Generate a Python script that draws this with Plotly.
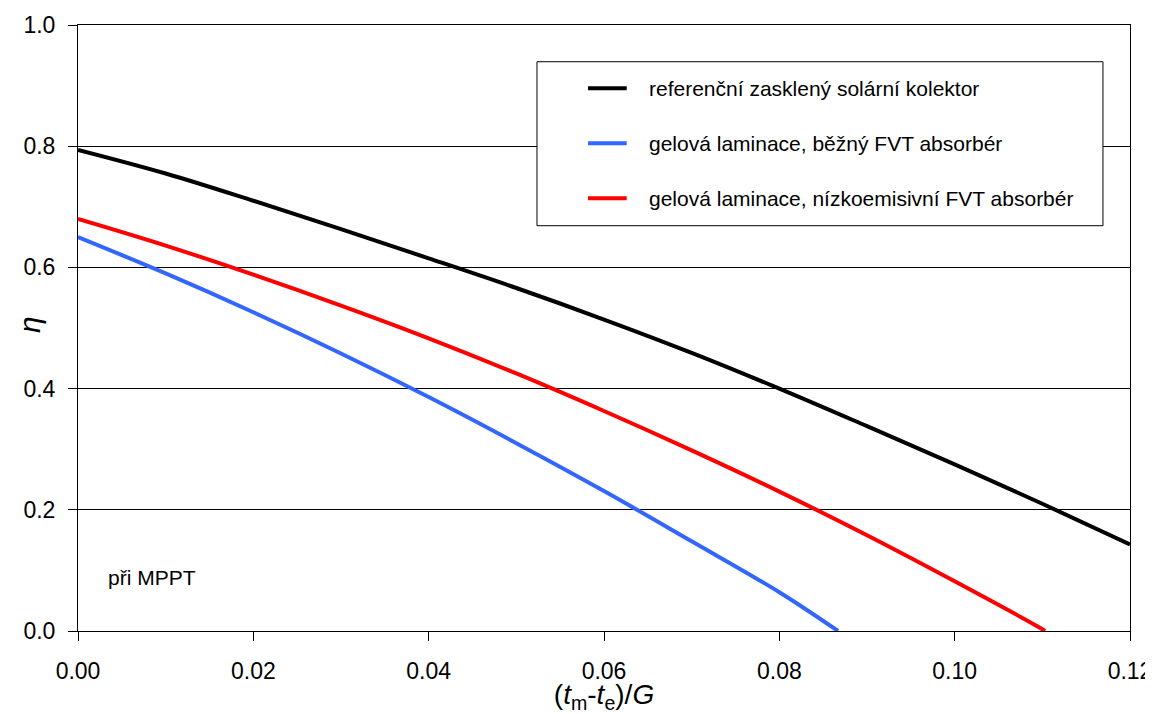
import plotly.graph_objects as go

# x values: (t_m - t_e)/G
x_black = [0.00, 0.01, 0.02, 0.03, 0.04, 0.05, 0.06, 0.07, 0.08, 0.09, 0.10, 0.11, 0.12]
eta_black = [0.794, 0.755, 0.710, 0.663, 0.615, 0.566, 0.514, 0.459, 0.400, 0.338, 0.275, 0.210, 0.143]

x_blue = [0.00, 0.01, 0.02, 0.03, 0.04, 0.05, 0.06, 0.07, 0.08, 0.0867]
eta_blue = [0.650, 0.590, 0.526, 0.458, 0.386, 0.310, 0.231, 0.148, 0.064, 0.000]

x_red = [0.00, 0.01, 0.02, 0.03, 0.04, 0.05, 0.06, 0.07, 0.08, 0.09, 0.10, 0.11, 0.1103]
eta_red = [0.680, 0.636, 0.588, 0.537, 0.483, 0.425, 0.363, 0.298, 0.230, 0.158, 0.082, 0.003, 0.000]

names = [
    "referenční zasklený solární kolektor",
    "gelová laminace, běžný FVT absorbér",
    "gelová laminace, nízkoemisivní FVT absorbér",
]
colors = ["#000000", "#3366FF", "#FF0000"]

x_ticks = [0.00, 0.02, 0.04, 0.06, 0.08, 0.10, 0.12]
y_ticks = [0.0, 0.2, 0.4, 0.6, 0.8, 1.0]

FONT = "Liberation Sans, Arial, sans-serif"

fig = go.Figure()
for i, (xs, ys) in enumerate([(x_black, eta_black), (x_blue, eta_blue), (x_red, eta_red)]):
    fig.add_trace(go.Scatter(
        x=xs, y=ys, mode="lines", name=names[i],
        line=dict(color=colors[i], width=4, shape="spline"),
        showlegend=False,
    ))

# legend drawn as a framed box with line samples and labels (paper coordinates)
leg_x0, leg_x1, leg_y0, leg_y1 = 0.4363, 0.9743, 0.6688, 0.9394
sample_x0, sample_x1, text_x = 0.4848, 0.5216, 0.5406
row_y = [0.8955, 0.8048, 0.714]

shapes = [dict(type="rect", xref="paper", yref="paper",
               x0=leg_x0, x1=leg_x1, y0=leg_y0, y1=leg_y1,
               line=dict(color="black", width=1), fillcolor="white", layer="above")]
annotations = []
for i in range(3):
    shapes.append(dict(type="line", xref="paper", yref="paper",
                       x0=sample_x0, x1=sample_x1, y0=row_y[i], y1=row_y[i],
                       line=dict(color=colors[i], width=4), layer="above"))
    annotations.append(dict(x=text_x, y=row_y[i], xref="paper", yref="paper",
                            xanchor="left", yanchor="middle", text=names[i],
                            showarrow=False, font=dict(size=21)))

annotations.append(dict(
    x=0.0032, y=0.089, xref="x", yref="y", xanchor="left", yanchor="middle",
    text="při MPPT", showarrow=False, font=dict(size=21),
))
# y-axis title
annotations.append(dict(
    x=0, y=0.505, xref="paper", yref="paper", xanchor="center", yanchor="middle",
    xshift=-48, textangle=-90, text="<i>η</i>", showarrow=False, font=dict(size=30),
))

fig.update_layout(
    width=1145, height=706,
    margin=dict(l=70, r=23, t=17, b=83),
    paper_bgcolor="white", plot_bgcolor="white",
    font=dict(family=FONT, color="black", size=21),
    showlegend=False,
    xaxis=dict(
        range=[0, 0.12], tickvals=x_ticks, tickformat=".2f",
        showgrid=False, zeroline=False, automargin=False,
        showline=True, linecolor="black", linewidth=1, mirror=True,
        ticks="outside", ticklen=9, tickcolor="black",
        tickfont=dict(size=23), ticklabelstandoff=10,
        title=dict(text="(<i>t</i><sub>m</sub>-<i>t</i><sub>e</sub>)/<i>G</i>",
                   font=dict(size=28), standoff=5),
    ),
    yaxis=dict(
        range=[0, 1.0], tickvals=y_ticks, tickformat=".1f",
        showgrid=True, gridcolor="black", gridwidth=1, zeroline=False, automargin=False,
        showline=True, linecolor="black", linewidth=1, mirror=True,
        ticks="outside", ticklen=9, tickcolor="black",
        tickfont=dict(size=23), ticklabelstandoff=8,
    ),
    shapes=shapes,
    annotations=annotations,
)

fig.write_html("out.html")
